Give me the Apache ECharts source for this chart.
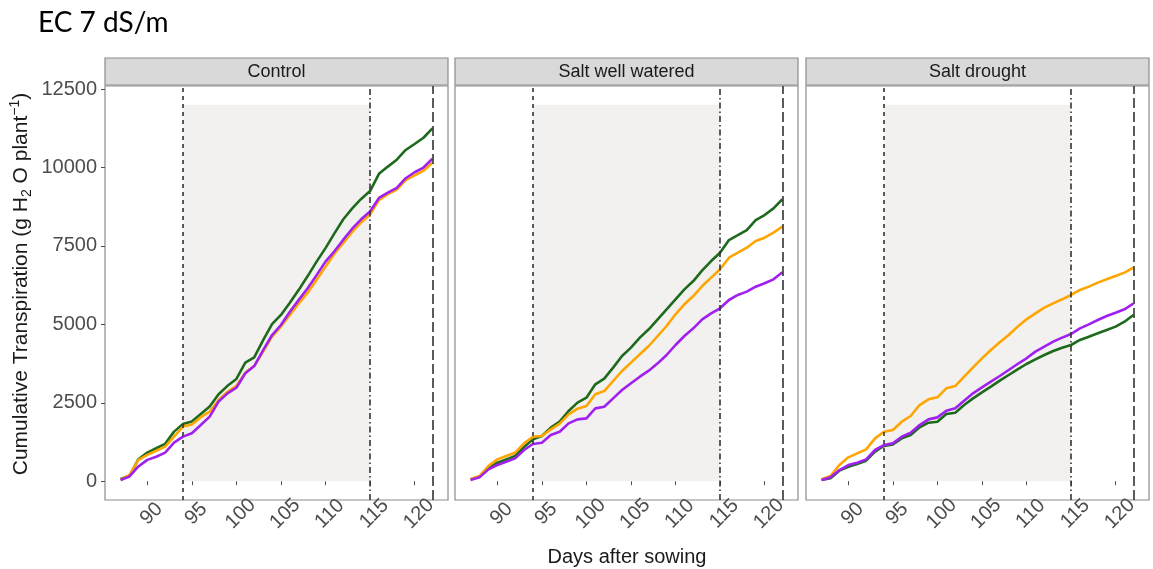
<!DOCTYPE html>
<html>
<head>
<meta charset="utf-8">
<script src="https://cdn.jsdelivr.net/npm/echarts@6/dist/echarts.min.js"></script>
<style>html,body{margin:0;padding:0;background:#fff}#c{width:1153px;height:569px}</style>
</head>
<body>
<div id="c"></div>
<script>
// ---- data ----
const days = [87,88,89,90,91,92,93,94,95,96,97,98,99,100,101,102,103,104,105,106,107,108,109,110,111,112,113,114,115,116,117,118,119,120,121,122];
const panels = ['Control', 'Salt well watered', 'Salt drought'];
const xTicks = [90, 95, 100, 105, 110, 115, 120];
const yTicks = [0, 2500, 5000, 7500, 10000, 12500];
const phaseLines = [94, 115, 122];      // stress start, stress end, harvest
const shadeRange = [94, 115, 0, 12000]; // x0, x1, y0, y1

const controlGreen  = [70,170,700,910,1050,1190,1580,1820,1900,2140,2380,2770,3040,3260,3780,3950,4500,5010,5300,5690,6100,6540,7000,7430,7900,8350,8700,9000,9250,9800,10030,10250,10560,10750,10950,11250];
const controlOrange = [40,200,680,840,970,1100,1420,1740,1810,2040,2220,2590,2850,3040,3460,3670,4130,4610,4930,5300,5670,6010,6420,6840,7250,7600,7950,8250,8500,8960,9150,9300,9600,9750,9900,10150];
const controlPurple = [40,150,470,680,780,910,1230,1420,1530,1790,2060,2540,2800,2980,3440,3670,4180,4660,4980,5400,5780,6150,6570,7000,7330,7700,8050,8350,8600,9030,9200,9350,9660,9850,10000,10280];

const wellGreen  = [60,143,431,590,696,802,1089,1334,1440,1706,1897,2238,2504,2663,3088,3269,3620,3992,4257,4576,4842,5160,5479,5797,6116,6381,6721,7019,7285,7689,7848,8008,8327,8486,8698,8990];
const wellOrange = [59,165,484,696,802,909,1206,1419,1440,1653,1833,2131,2312,2397,2769,2875,3194,3513,3779,4045,4310,4629,4948,5320,5639,5904,6223,6489,6755,7126,7286,7445,7658,7764,7924,8120];
const wellPurple = [38,122,377,515,622,728,994,1185,1228,1472,1578,1844,1971,2003,2322,2375,2641,2907,3120,3332,3523,3757,4023,4342,4629,4873,5160,5352,5512,5777,5937,6043,6202,6309,6436,6660];

const droughtGreen  = [38,91,335,462,547,653,940,1121,1174,1366,1472,1716,1865,1897,2142,2184,2429,2641,2832,3013,3205,3386,3566,3736,3885,4023,4151,4257,4342,4502,4608,4714,4821,4927,5086,5300];
const droughtOrange = [59,165,515,760,888,1015,1366,1578,1631,1897,2078,2428,2609,2673,2960,3034,3332,3630,3917,4183,4427,4661,4927,5161,5352,5533,5671,5799,5937,6096,6203,6330,6436,6542,6649,6810];
const droughtPurple = [38,122,356,515,590,696,994,1153,1206,1419,1546,1791,1971,2035,2248,2322,2567,2801,2992,3173,3354,3545,3736,3917,4130,4289,4448,4576,4693,4874,5001,5139,5267,5373,5480,5665];

const panelSeries = [
  [controlGreen, controlOrange, controlPurple],
  [wellGreen, wellOrange, wellPurple],
  [droughtGreen, droughtOrange, droughtPurple]
];
const seriesNames = ['Green line', 'Orange line', 'Purple line'];
const colors = ['#1d6a1d', '#FFA500', '#A020F0'];

// ---- layout ----
const lefts = [105, 455, 806];
const W = 343, TOP = 86, H = 414;
const font = '"Liberation Sans", Arial, sans-serif';

const grids = [], xAxes = [], yAxes = [], series = [], graphics = [];
lefts.forEach((l, i) => {
  grids.push({left: l, top: TOP, width: W, height: H, show: true, borderColor: '#8c8c8c', borderWidth: 1.2, backgroundColor: '#fff', containLabel: false});
  xAxes.push({
    type: 'value', gridIndex: i, min: 85.25, max: 123.75,
    splitLine: {show: false}, axisLine: {show: false},
    axisTick: {show: true, customValues: xTicks, length: 4, lineStyle: {color: '#4d4d4d', width: 1}},
    axisLabel: {customValues: xTicks, rotate: 45, fontSize: 20, color: '#4D4D4D', fontFamily: font,
      align: 'center', verticalAlign: 'middle', margin: 18, padding: [0, 0, 0, 12],
      formatter: v => String(v)}
  });
  yAxes.push({
    type: 'value', gridIndex: i, min: -600, max: 12600,
    splitLine: {show: false}, axisLine: {show: false},
    axisTick: {show: i === 0, customValues: yTicks, length: 4, lineStyle: {color: '#4d4d4d', width: 1}},
    axisLabel: {show: i === 0, customValues: yTicks, fontSize: 20, color: '#4D4D4D', fontFamily: font, margin: 8,
      formatter: v => String(v)}
  });
  // background markers
  series.push({
    type: 'line', xAxisIndex: i, yAxisIndex: i, data: [], z: 1, silent: true,
    markArea: {silent: true, itemStyle: {color: '#F2F1F0'}, data: [[{xAxis: shadeRange[0], yAxis: shadeRange[2]}, {xAxis: shadeRange[1], yAxis: shadeRange[3]}]]}
  });
  panelSeries[i].forEach((vals, k) => {
    series.push({
      name: seriesNames[k], type: 'line', xAxisIndex: i, yAxisIndex: i, z: 3,
      data: days.map((d, j) => [d, vals[j]]),
      symbol: 'none', smooth: false,
      lineStyle: {color: colors[k], width: 2.6}, itemStyle: {color: colors[k]}
    });
  });
  series.push({
    type: 'line', xAxisIndex: i, yAxisIndex: i, data: [], z: 4, silent: true,
    markLine: {
      silent: true, symbol: ['none', 'none'], label: {show: false},
      data: [
        {xAxis: phaseLines[0], lineStyle: {color: '#333', width: 1.6, type: [4, 4]}},
        {xAxis: phaseLines[1], lineStyle: {color: '#333', width: 1.6, type: [6, 3, 1.5, 3]}},
        {xAxis: phaseLines[2], lineStyle: {color: '#333', width: 1.6, type: [10, 4]}}
      ]
    }
  });
  // strip
  graphics.push({type: 'rect', shape: {x: l, y: 58, width: W, height: 27}, style: {fill: '#D9D9D9', stroke: '#8c8c8c', lineWidth: 1.2}, z: 10});
  graphics.push({type: 'text', x: l + W / 2, y: 72, style: {text: panels[i], font: '18px ' + font, fill: '#1a1a1a', align: 'center', verticalAlign: 'middle'}, z: 11});
});

graphics.push({type: 'text', left: 38, top: 9, style: {text: 'EC 7 dS/m', font: '28px Lato, "Open Sans", sans-serif', fill: '#000'}});
graphics.push({type: 'text', x: 627, y: 557, style: {text: 'Days after sowing', font: '20px ' + font, fill: '#1a1a1a', align: 'center', verticalAlign: 'middle'}});
graphics.push({
  type: 'text', x: 21, y: 284, rotation: Math.PI / 2,
  style: {
    text: '{n|Cumulative Transpiration (g H}{sub|2}{n| O plant}{sup|−1}{n|)}',
    align: 'center', verticalAlign: 'middle',
    rich: {
      n: {fontSize: 21, fontFamily: font, fill: '#1a1a1a', lineHeight: 26, verticalAlign: 'middle'},
      sub: {fontSize: 14, fontFamily: font, fill: '#1a1a1a', lineHeight: 14, verticalAlign: 'bottom'},
      sup: {fontSize: 14, fontFamily: font, fill: '#1a1a1a', lineHeight: 14, verticalAlign: 'top'}
    }
  }
});

const chart = echarts.init(document.getElementById('c'), null, {renderer: 'canvas'});
chart.setOption({
  animation: false,
  backgroundColor: '#fff',
  grid: grids, xAxis: xAxes, yAxis: yAxes, series: series, graphic: graphics
});
</script>
</body>
</html>
